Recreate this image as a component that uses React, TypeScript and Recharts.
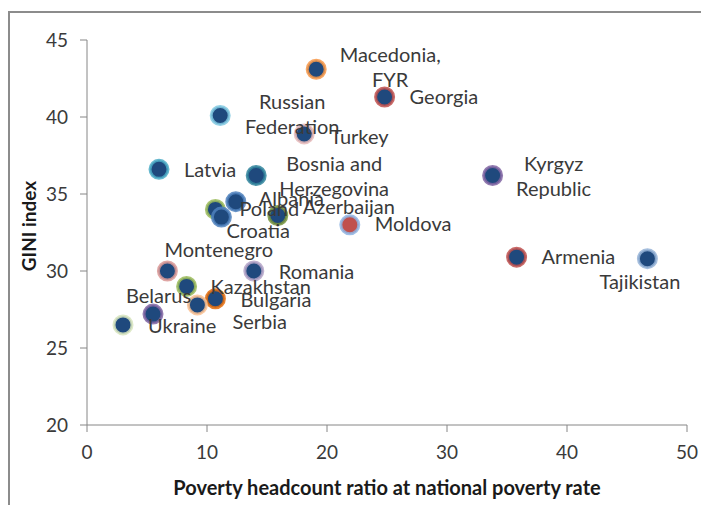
import { ScatterChart, Scatter, XAxis, YAxis } from "recharts";

const countries = [
  "Macedonia, FYR",
  "Georgia",
  "Russian Federation",
  "Turkey",
  "Latvia",
  "Bosnia and Herzegovina",
  "Kyrgyz Republic",
  "Albania",
  "Poland",
  "Croatia",
  "Azerbaijan",
  "Moldova",
  "Montenegro",
  "Romania",
  "Armenia",
  "Tajikistan",
  "Kazakhstan",
  "Bulgaria",
  "Serbia",
  "Belarus",
  "Ukraine",
];

const povertyRate = [
  19.1, 24.8, 11.1, 18.1, 6.0, 14.1, 33.8, 12.4, 10.7, 11.2, 15.9, 21.9, 6.7,
  13.9, 35.8, 46.7, 8.3, 10.7, 9.2, 5.5, 3.0,
];

const giniIndex = [
  43.1, 41.3, 40.1, 38.9, 36.6, 36.2, 36.2, 34.5, 34.0, 33.5, 33.6, 33.0, 30.0,
  30.0, 30.9, 30.8, 29.0, 28.2, 27.8, 27.2, 26.5,
];

const xTicks = [0, 10, 20, 30, 40, 50];
const yTicks = [20, 25, 30, 35, 40, 45];

const rows = countries.map((name, i) => ({
  name,
  poverty: povertyRate[i],
  gini: giniIndex[i],
}));

// marker ring colours (inner fill is navy unless noted)
const ringColor: Record<string, string> = {
  "Macedonia, FYR": "#f79646",
  Georgia: "#c0504d",
  "Russian Federation": "#7fc8e0",
  Turkey: "#e6b9b8",
  Latvia: "#4bacc6",
  "Bosnia and Herzegovina": "#31859c",
  "Kyrgyz Republic": "#8064a2",
  Albania: "#4f81bd",
  Poland: "#9bbb59",
  Croatia: "#4f81bd",
  Azerbaijan: "#77933c",
  Moldova: "#8eb4e3",
  Montenegro: "#d99694",
  Romania: "#b3a2c7",
  Armenia: "#c0504d",
  Tajikistan: "#95b3d7",
  Kazakhstan: "#9bbb59",
  Bulgaria: "#e46c0a",
  Serbia: "#fac090",
  Belarus: "#8064a2",
  Ukraine: "#d7e4bd",
};

const innerColor: Record<string, string> = {
  Moldova: "#c0504d",
};

// where each data label sits relative to its marker
type Place = { lines: string[]; dx: number; dy: number; anchor: "start" | "middle" };
const labelPlace: Record<string, Place> = {
  "Macedonia, FYR": { lines: ["Macedonia,", "FYR"], dx: 74, dy: -14, anchor: "middle" },
  Georgia: { lines: ["Georgia"], dx: 25, dy: 0, anchor: "start" },
  "Russian Federation": { lines: ["Russian", "Federation"], dx: 72, dy: -13, anchor: "middle" },
  Turkey: { lines: ["Turkey"], dx: 26, dy: 3, anchor: "start" },
  Latvia: { lines: ["Latvia"], dx: 25, dy: 1, anchor: "start" },
  "Bosnia and Herzegovina": { lines: ["Bosnia and", "Herzegovina"], dx: 78, dy: -12, anchor: "middle" },
  "Kyrgyz Republic": { lines: ["Kyrgyz", "Republic"], dx: 61, dy: -12, anchor: "middle" },
  Albania: { lines: ["Albania"], dx: 23, dy: -3, anchor: "start" },
  Poland: { lines: ["Poland"], dx: 24, dy: 0, anchor: "start" },
  Croatia: { lines: ["Croatia"], dx: 5, dy: 14, anchor: "start" },
  Azerbaijan: { lines: ["Azerbaijan"], dx: 25, dy: -9, anchor: "start" },
  Moldova: { lines: ["Moldova"], dx: 25, dy: -1, anchor: "start" },
  Montenegro: { lines: ["Montenegro"], dx: -3, dy: -21, anchor: "start" },
  Romania: { lines: ["Romania"], dx: 25, dy: 1, anchor: "start" },
  Armenia: { lines: ["Armenia"], dx: 25, dy: 0, anchor: "start" },
  Tajikistan: { lines: ["Tajikistan"], dx: -48, dy: 23, anchor: "start" },
  Kazakhstan: { lines: ["Kazakhstan"], dx: 24, dy: 1, anchor: "start" },
  Bulgaria: { lines: ["Bulgaria"], dx: 25, dy: 1, anchor: "start" },
  Serbia: { lines: ["Serbia"], dx: 35, dy: 17, anchor: "start" },
  Belarus: { lines: ["Belarus"], dx: -27, dy: -18, anchor: "start" },
  Ukraine: { lines: ["Ukraine"], dx: 25, dy: 1, anchor: "start" },
};

const FONT = "Lato, 'Open Sans', sans-serif";
const LABEL_SIZE = 20;
const TEXT = "#3a3a3a";
const AXIS = "#868686";

function Marker(props: any) {
  const { cx, cy, payload } = props;
  if (cx == null || cy == null) return null;
  const name = payload.name;
  return (
    <circle
      cx={cx}
      cy={cy}
      r={9}
      fill={innerColor[name] || "#1f497d"}
      stroke={ringColor[name]}
      strokeWidth={3}
      strokeOpacity={0.85}
    />
  );
}

function PointLabel(props: any) {
  const { cx, cy, payload } = props;
  if (cx == null || cy == null) return null;
  const p = labelPlace[payload.name];
  return (
    <g>
      {p.lines.map((line, i) => (
        <text
          key={line}
          x={cx + p.dx}
          y={cy + p.dy + i * 25 + LABEL_SIZE * 0.35}
          textAnchor={p.anchor}
          fontFamily={FONT}
          fontSize={LABEL_SIZE}
          fill={TEXT}
        >
          {line}
        </text>
      ))}
    </g>
  );
}

export default function App() {
  const tickStyle = { fill: TEXT, fontSize: 19, fontFamily: FONT };
  return (
    <div
      style={{
        position: "relative",
        margin: -8,
        width: 709,
        height: 513,
        overflow: "hidden",
        background: "#fff",
      }}
    >
      {/* outer frame, runs off the right and bottom edges */}
      <div
        style={{
          position: "absolute",
          left: 8,
          top: 11,
          width: 760,
          height: 560,
          border: "2px solid #8c8c8c",
        }}
      />
      <svg
        width={709}
        height={513}
        style={{ position: "absolute", left: 0, top: 0 }}
      >
        <text x={137} y={1} fontFamily={FONT} fontWeight="bold" fontSize={28} fill="#000">
          Figure 4
        </text>
        <text
          x={387}
          y={495}
          textAnchor="middle"
          fontFamily={FONT}
          fontWeight="bold"
          fontSize={20}
          fill="#1a1a1a"
        >
          Poverty headcount ratio at national poverty rate
        </text>
        <text
          transform="translate(36 226) rotate(-90)"
          textAnchor="middle"
          fontFamily={FONT}
          fontWeight="bold"
          fontSize={19}
          fill="#1a1a1a"
        >
          GINI index
        </text>
      </svg>
      <div style={{ position: "absolute", left: 0, top: 0 }}>
        <ScatterChart
          width={709}
          height={513}
          margin={{ top: 40, right: 22, bottom: 58, left: 47 }}
        >
          <XAxis
            dataKey="poverty"
            type="number"
            domain={[0, 50]}
            ticks={xTicks}
            height={30}
            stroke={AXIS}
            tickSize={7}
            tickMargin={14}
            tick={tickStyle}
          />
          <YAxis
            dataKey="gini"
            type="number"
            domain={[20, 45]}
            ticks={yTicks}
            width={40}
            stroke={AXIS}
            tickSize={7}
            tickMargin={12}
            tick={tickStyle}
          />
          <Scatter data={rows} shape={Marker} isAnimationActive={false} />
          <Scatter data={rows} shape={PointLabel} isAnimationActive={false} />
        </ScatterChart>
      </div>
    </div>
  );
}
